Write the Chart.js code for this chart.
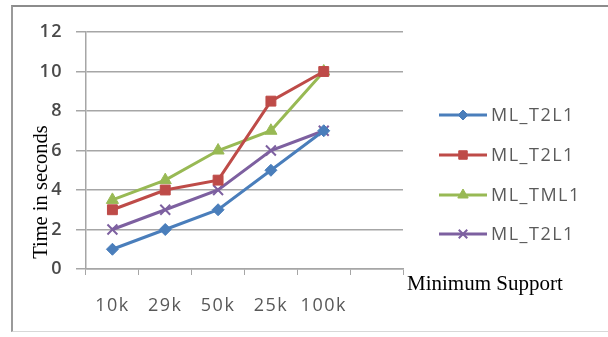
<!DOCTYPE html>
<html>
<head>
<meta charset="utf-8">
<script src="https://cdn.jsdelivr.net/npm/chart.js@4/dist/chart.umd.min.js"></script>
<style>
  html, body { margin: 0; padding: 0; background: #fff; }
  #wrap { position: relative; width: 608px; height: 337px; }
  #frame {
    position: absolute; left: 11px; top: 5px; width: 597px; height: 327px;
    border-left: 2px solid #9a9a9a; border-top: 2px solid #8c8c8c; border-bottom: 1px solid #d8d8d8;
    box-sizing: border-box;
  }
  canvas { position: absolute; left: 0; top: 0; }
</style>
</head>
<body>
<div id="wrap">
  <div id="frame"></div>
  <canvas id="chart" width="608" height="337"></canvas>
</div>
<script>
// Minimum support levels (last slot left empty on the axis)
const categories = ['10k', '29k', '50k', '25k', '100k', ''];

// Execution time in seconds for each algorithm
const seriesNames = ['ML_T2L1', 'ML_T2L1', 'ML_TML1', 'ML_T2L1'];
const timeBlue   = [1, 2, 3, 5, 7];
const timeRed    = [3, 4, 4.5, 8.5, 10];
const timeGreen  = [3.5, 4.5, 6, 7, 10];
const timePurple = [2, 3, 4, 6, 7];

// Y axis ticks
const yTicks = [0, 2, 4, 6, 8, 10, 12];

const yTitle = 'Time in seconds';
const xTitle = 'Minimum Support';

const styles = [
  { color: '#4a7ebb', point: 'rectRot',  radius: 6 },
  { color: '#be4b48', point: 'rect',     radius: 7 },
  { color: '#98b954', point: 'triangle', radius: 7 },
  { color: '#7d60a0', point: 'crossRot', radius: 7 }
];
const seriesData = [timeBlue, timeRed, timeGreen, timePurple];

const datasets = seriesData.map((d, i) => ({
  label: seriesNames[i],
  data: d,
  borderColor: styles[i].color,
  backgroundColor: styles[i].color,
  borderWidth: 3,
  pointStyle: styles[i].point,
  pointRadius: styles[i].radius,
  pointBorderWidth: styles[i].point === 'crossRot' ? 2 : 1,
  pointBorderColor: styles[i].color,
  pointBackgroundColor: styles[i].color,
  tension: 0,
  fill: false
}));

const tickFont = { family: '"Open Sans", "DejaVu Sans", sans-serif', size: 18 };

// Legend on the right with line + marker samples, and the two serif axis titles
const sidePlugin = {
  id: 'sideLegendAndTitles',
  beforeDraw(chart) {
    chart.ctx.letterSpacing = '1.5px';
  },
  afterDraw(chart) {
    const ctx = chart.ctx;
    ctx.save();
    const rows = [115, 155, 195, 234];
    chart.data.datasets.forEach((ds, i) => {
      const y = rows[i];
      ctx.strokeStyle = ds.borderColor;
      ctx.lineWidth = 3;
      ctx.beginPath();
      ctx.moveTo(439, y);
      ctx.lineTo(487, y);
      ctx.stroke();
      ctx.fillStyle = ds.backgroundColor;
      ctx.lineWidth = ds.pointBorderWidth;
      if (Chart.helpers && Chart.helpers.drawPoint) {
        Chart.helpers.drawPoint(ctx, {
          pointStyle: ds.pointStyle,
          radius: ds.pointRadius - 1,
          borderWidth: ds.pointBorderWidth,
          rotation: 0
        }, 463, y);
      }
      ctx.letterSpacing = '1.5px';
      ctx.fillStyle = '#5a5a5a';
      ctx.font = '18px "Open Sans", "DejaVu Sans", sans-serif';
      ctx.textAlign = 'left';
      ctx.textBaseline = 'middle';
      ctx.fillText(ds.label, 491, y + 1);
    });

    ctx.letterSpacing = '0px';
    ctx.fillStyle = '#000';
    ctx.font = '21px "Liberation Serif", "Times New Roman", serif';
    ctx.textBaseline = 'alphabetic';
    ctx.textAlign = 'left';
    ctx.fillText(xTitle, 407, 290);

    ctx.font = '20.5px "Liberation Serif", "Times New Roman", serif';
    ctx.translate(47, 192);
    ctx.rotate(-Math.PI / 2);
    ctx.textAlign = 'center';
    ctx.fillText(yTitle, 0, 0);
    ctx.restore();
  }
};

new Chart(document.getElementById('chart'), {
  type: 'line',
  data: { labels: categories, datasets: datasets },
  options: {
    responsive: false,
    animation: false,
    layout: { padding: { left: 0, top: 32, right: 205, bottom: 0 } },
    plugins: { legend: { display: false }, tooltip: { enabled: false } },
    scales: {
      x: {
        offset: true,
        grid: {
          offset: true,
          drawOnChartArea: false,
          drawTicks: true,
          tickLength: 6,
          color: '#a6a6a6',
          lineWidth: 1
        },
        border: { color: '#a6a6a6', width: 1.5 },
        ticks: { color: '#585858', font: tickFont, padding: 20, maxRotation: 0, autoSkip: false },
        afterFit(scale) { scale.height = 68; }
      },
      y: {
        min: 0,
        max: 12,
        afterBuildTicks(scale) { scale.ticks = yTicks.map(v => ({ value: v })); },
        grid: { color: '#a6a6a6', lineWidth: 1.5, tickLength: 10 },
        border: { color: '#a6a6a6', width: 1.5 },
        ticks: { color: '#4a4a4a', font: { ...tickFont, weight: '600' }, padding: 13 },
        afterFit(scale) { scale.width = 86; }
      }
    }
  },
  plugins: [sidePlugin]
});
</script>
</body>
</html>
